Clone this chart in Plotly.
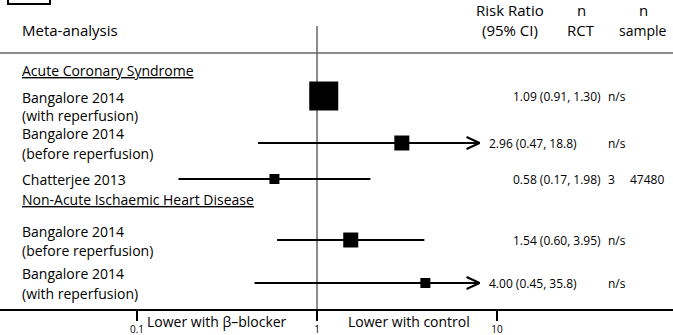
import math
import plotly.graph_objects as go

# ---- data -------------------------------------------------------------
study_line1 = ["Bangalore 2014", "Bangalore 2014", "Chatterjee 2013",
               "Bangalore 2014", "Bangalore 2014"]
study_line2 = ["(with reperfusion)", "(before reperfusion)", "",
               "(before reperfusion)", "(with reperfusion)"]
risk_ratio = [1.09, 2.96, 0.58, 1.54, 4.00]
ci_low = [0.91, 0.47, 0.17, 0.60, 0.45]
ci_high = [1.30, 18.8, 1.98, 3.95, 35.8]
n_rct = ["n/s", "n/s", "3", "n/s", "n/s"]
n_sample = ["", "", "47480", "", ""]
groups = ["Acute Coronary Syndrome", "Non-Acute Ischaemic Heart Disease"]
tick_vals = [0.1, 1, 10]
tick_text = ["0.1", "1", "10"]

# ---- layout constants (pixel geometry of the table) -----------------
W, H = 673, 335
AXIS_Y = 309                 # y of the bottom axis line (px from top)
PX_PER_DECADE = 180
X_ONE = 317                  # pixel column of RR = 1
row_y = [96, 143, 179, 240, 283]
row_text_y = [(97, 115), (133, 153), (179, None), (231, 250), (273, 293)]
group_y = [70, 199]
box_px = [29, 15, 10, 15, 10]
clip_hi = 8.0                # CIs beyond this are drawn with an arrow

FONT = "Open Sans"
FS = 14
FS_HEAD = 15
FS_NUM = 12
INK = "black"
RULE = "#666666"

def px_to_paper(px):
    return px / W

def fmt(v):
    return f"{v:.1f}" if v >= 10 else f"{v:.2f}"

fig = go.Figure()

# confidence-interval lines
for i in range(len(risk_ratio)):
    hi = min(ci_high[i], clip_hi)
    fig.add_trace(go.Scatter(
        x=[ci_low[i], hi], y=[row_y[i], row_y[i]], mode="lines",
        line=dict(color=INK, width=2), hoverinfo="skip", showlegend=False))
    if ci_high[i] > clip_hi:
        back = 10 ** (-13 / PX_PER_DECADE)
        fig.add_trace(go.Scatter(
            x=[hi * back, hi, hi * back],
            y=[row_y[i] - 6, row_y[i], row_y[i] + 6], mode="lines",
            line=dict(color=INK, width=2), hoverinfo="skip", showlegend=False))

# point estimates
fig.add_trace(go.Scatter(
    x=risk_ratio, y=row_y, mode="markers",
    marker=dict(symbol="square", size=box_px, color=INK, opacity=1,
                line=dict(width=0)),
    hoverinfo="skip", showlegend=False))

ann = []
def text(x_px, y, s, anchor="left", size=FS, **kw):
    ann.append(dict(x=px_to_paper(x_px), xref="paper", y=y, yref="y", text=s,
                    xanchor=anchor, yanchor="middle", showarrow=False,
                    font=dict(family=FONT, size=size, color=INK), **kw))

# column headers
text(20, 30, "Meta-analysis", size=FS_HEAD)
text(510, 10, "Risk Ratio", "center", size=FS_HEAD)
text(510, 30, "(95% CI)", "center", size=FS_HEAD)
text(581, 10, "n", "center", size=FS_HEAD)
text(581, 30, "RCT", "center", size=FS_HEAD)
text(643, 10, "n", "center", size=FS_HEAD)
text(643, 30, "sample", "center")

# group headings
for g, gy in zip(groups, group_y):
    text(20, gy, f"<u>{g}</u>")

# study rows
for i in range(len(risk_ratio)):
    y1, y2 = row_text_y[i]
    text(20, y1, study_line1[i])
    if y2 is not None:
        text(20, y2, study_line2[i])
    label = f"{fmt(risk_ratio[i])} ({fmt(ci_low[i])}, {fmt(ci_high[i])})"
    text(487 if ci_high[i] > clip_hi else 511, row_y[i], label, size=FS_NUM)
    text(606, row_y[i], n_rct[i], size=FS_NUM)
    if n_sample[i]:
        text(647, row_y[i], n_sample[i], "center", size=FS_NUM)

# direction labels under the axis
for s, xc in (("Lower with β\u2013blocker", 217), ("Lower with control", 409)):
    ann.append(dict(x=px_to_paper(xc), xref="paper", y=(H - 321) / H,
                    yref="paper", text=s, xanchor="center", yanchor="middle",
                    showarrow=False, font=dict(family=FONT, size=FS, color=INK)))

# panel letter box (top-left, cut by the page edge)
ann.append(dict(x=px_to_paper(29), xref="paper", y=-6, yref="y", text="<b>B</b>",
                xanchor="center", yanchor="middle", showarrow=False,
                font=dict(family=FONT, size=22, color=INK)))

shapes = [
    # header rule
    dict(type="line", xref="paper", yref="y", x0=0, x1=1, y0=53, y1=53,
         line=dict(color=RULE, width=1.5)),
    # line of no effect
    dict(type="line", xref="x", yref="y", x0=1, x1=1, y0=26, y1=AXIS_Y,
         line=dict(color=RULE, width=1.5), layer="below"),
    # panel box
    dict(type="rect", xref="paper", yref="y", x0=px_to_paper(8),
         x1=px_to_paper(50), y0=-30, y1=4, line=dict(color=INK, width=2)),
]

x_lo = math.log10(1) - X_ONE / PX_PER_DECADE
x_hi = math.log10(1) + (W - X_ONE) / PX_PER_DECADE

fig.update_layout(
    width=W, height=H, margin=dict(l=0, r=0, t=0, b=0),
    paper_bgcolor="white", plot_bgcolor="white",
    annotations=ann, shapes=shapes,
    xaxis=dict(type="log", range=[x_lo, x_hi], tickvals=tick_vals,
               ticktext=tick_text, ticks="outside", ticklen=10, tickwidth=1.5,
               tickcolor=INK, showline=True, linecolor=INK, linewidth=1.5,
               showgrid=False, zeroline=False, fixedrange=True,
               tickfont=dict(family=FONT, size=10, color=INK)),
    yaxis=dict(domain=[(H - AXIS_Y) / H, 1], range=[AXIS_Y, 0], visible=False,
               fixedrange=True),
)

fig.write_html("out.html", config={"displayModeBar": False})
